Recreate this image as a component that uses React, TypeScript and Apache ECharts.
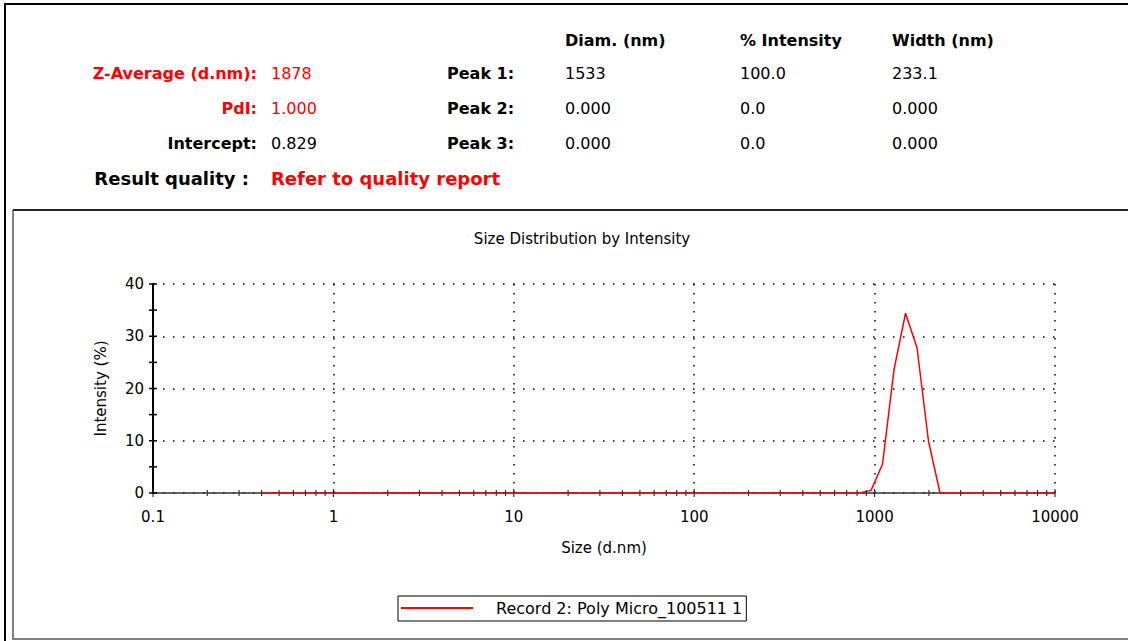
import React, { useEffect, useRef } from "react";
import * as echarts from "echarts";

// Zetasizer size classes (d.nm)
const sizes = [
  0.4, 0.4632, 0.5365, 0.6213, 0.7195, 0.8332, 0.9649, 1.117, 1.294, 1.499,
  1.736, 2.01, 2.328, 2.696, 3.122, 3.615, 4.187, 4.849, 5.615, 6.503,
  7.531, 8.721, 10.1, 11.7, 13.54, 15.69, 18.17, 21.04, 24.36, 28.21,
  32.67, 37.84, 43.82, 50.75, 58.77, 68.06, 78.82, 91.28, 105.7, 122.4,
  141.8, 164.2, 190.1, 220.2, 255.0, 295.3, 342.0, 396.1, 458.7, 531.2,
  615.1, 712.4, 825.0, 955.4, 1106, 1281, 1484, 1718, 1990, 2305,
  2669, 3091, 3580, 4145, 4801, 5560, 6439, 7456, 8635, 10000,
];
// Intensity (%)
const intensity = [
  0, 0, 0, 0, 0, 0, 0, 0, 0, 0,
  0, 0, 0, 0, 0, 0, 0, 0, 0, 0,
  0, 0, 0, 0, 0, 0, 0, 0, 0, 0,
  0, 0, 0, 0, 0, 0, 0, 0, 0, 0,
  0, 0, 0, 0, 0, 0, 0, 0, 0, 0,
  0, 0, 0, 0.5, 5.5, 23.6, 34.4, 27.8, 9.9, 0,
  0, 0, 0, 0, 0, 0, 0, 0, 0, 0,
];

const seriesName = "Record 2: Poly Micro_100511 1";
const xDecades = [0.1, 1, 10, 100, 1000, 10000];
const xMinorMultipliers = [2, 3, 4, 5, 6, 7, 8, 9];
const yTicks = [0, 5, 10, 15, 20, 25, 30, 35, 40];

const summaryLabels = ["Z-Average (d.nm):", "PdI:", "Intercept:"];
const summaryValues = ["1878", "1.000", "0.829"];
const summaryRed = [true, true, false];
const peakLabels = ["Peak 1:", "Peak 2:", "Peak 3:"];
const peakHeaders = ["Diam. (nm)", "% Intensity", "Width (nm)"];
const peakDiam = ["1533", "0.000", "0.000"];
const peakIntensity = ["100.0", "0.0", "0.0"];
const peakWidth = ["233.1", "0.000", "0.000"];
const qualityLabel = "Result quality :";
const qualityValue = "Refer to quality report";

const FONT = '"DejaVu Sans"';

export default function App() {
  const ref = useRef<HTMLDivElement>(null);

  useEffect(() => {
    document.body.style.margin = "0";
    const chart = echarts.init(ref.current!, null, { renderer: "svg" });

    const rowY = [73, 108, 143];
    const colX = [565, 740, 892];
    const txt = (
      text: string,
      x: number,
      y: number,
      opts: { bold?: boolean; size?: number; color?: string; align?: string } = {}
    ) => ({
      type: "text",
      x,
      y,
      silent: true,
      style: {
        text,
        fill: opts.color || "#000",
        font: `${opts.bold ? "bold " : ""}${opts.size || 16}px ${FONT}`,
        textAlign: opts.align || "left",
        align: opts.align || "left",
        textVerticalAlign: "middle",
        verticalAlign: "middle",
      },
    });

    const graphics: any[] = [
      { type: "polyline", silent: true, shape: { points: [[5, 641], [5, 4], [1128, 4]] }, style: { stroke: "#000", lineWidth: 2, fill: null } },
      { type: "polyline", silent: true, shape: { points: [[13, 210], [13, 639], [1128, 639]] }, style: { stroke: "#808080", lineWidth: 2, fill: null } },
      { type: "line", silent: true, shape: { x1: 13, y1: 210, x2: 1128, y2: 210 }, style: { stroke: "#222", lineWidth: 2 } },
    ];
    peakHeaders.forEach((h, i) => graphics.push(txt(h, colX[i], 40, { bold: true })));
    summaryLabels.forEach((l, i) => {
      const c = summaryRed[i] ? "#ff0000" : "#000";
      graphics.push(txt(l, 257, rowY[i], { bold: true, color: c, align: "right" }));
      graphics.push(txt(summaryValues[i], 271, rowY[i], { color: c }));
      graphics.push(txt(peakLabels[i], 447, rowY[i], { bold: true }));
      graphics.push(txt(peakDiam[i], colX[0], rowY[i]));
      graphics.push(txt(peakIntensity[i], colX[1], rowY[i]));
      graphics.push(txt(peakWidth[i], colX[2], rowY[i]));
    });
    graphics.push(txt(qualityLabel, 249, 178, { bold: true, size: 18, align: "right" }));
    graphics.push(txt(qualityValue, 271, 178, { bold: true, size: 18, color: "#ff0000" }));

    const xTickData: number[][] = [];
    xDecades.forEach((d) => {
      xTickData.push([d, 1]);
      if (d < 10000) xMinorMultipliers.forEach((m) => xTickData.push([d * m, 0]));
    });

    chart.setOption({
      animation: false,
      title: {
        text: "Size Distribution by Intensity",
        left: 577,
        top: 226,
        textAlign: "center",
        textStyle: { fontFamily: FONT, fontSize: 15, fontWeight: "normal", color: "#000" },
      },
      grid: { left: 153, top: 284, width: 902, height: 209, containLabel: false },
      legend: {
        data: [seriesName],
        left: 398,
        top: 596,
        padding: [4, 4, 5, 3],
        icon: "rect",
        itemWidth: 72,
        itemHeight: 2,
        borderColor: "#000",
        borderWidth: 1,
        borderRadius: 0,
        selectedMode: false,
        textStyle: { fontFamily: FONT, fontSize: 16, color: "#000", padding: [0, 0, 0, 18] },
      },
      xAxis: {
        type: "log",
        logBase: 10,
        min: 0.1,
        max: 10000,
        splitNumber: 5,
        name: "Size (d.nm)",
        nameLocation: "middle",
        nameGap: 47,
        nameTextStyle: { fontFamily: FONT, fontSize: 15, color: "#000" },
        axisLine: { show: true, lineStyle: { color: "#333", width: 1.5 } },
        axisTick: { show: false },
        axisLabel: {
          fontFamily: FONT,
          fontSize: 15,
          color: "#000",
          margin: 16,
          formatter: (v: number) => String(Number(v.toPrecision(6))),
        },
        splitLine: { show: true, lineStyle: { color: "#000", width: 1.5, type: [1.5, 7.5] } },
      },
      yAxis: {
        type: "value",
        min: 0,
        max: 40,
        interval: 10,
        name: "Intensity (%)",
        nameLocation: "middle",
        nameGap: 45,
        nameTextStyle: { fontFamily: FONT, fontSize: 15, color: "#000" },
        axisLine: { show: true, lineStyle: { color: "#000", width: 2 } },
        axisTick: { show: false },
        axisLabel: { fontFamily: FONT, fontSize: 15, color: "#000", margin: 9 },
        splitLine: { show: true, lineStyle: { color: "#000", width: 1.5, type: [1.5, 8.5] } },
      },
      series: [
        {
          name: seriesName,
          type: "line",
          data: sizes.map((s, i) => [s, intensity[i]]),
          symbol: "none",
          showSymbol: false,
          lineStyle: { color: "#ff0000", width: 1.5 },
          itemStyle: { color: "#ff0000" },
          z: 3,
        },
        {
          type: "custom",
          name: "xticks",
          silent: true,
          clip: false,
          z: 4,
          data: xTickData,
          renderItem: (params: any, api: any) => {
            const p = api.coord([api.value(0), 0]);
            const h = api.value(1) ? 4 : 3;
            return {
              type: "line",
              shape: { x1: p[0], y1: p[1] - h, x2: p[0], y2: p[1] + h },
              style: { stroke: "#333", lineWidth: 1.2 },
            };
          },
        },
        {
          type: "custom",
          name: "yticks",
          silent: true,
          clip: false,
          z: 4,
          data: yTicks.map((v) => [0.1, v]),
          renderItem: (params: any, api: any) => {
            const p = api.coord([0.1, api.value(1)]);
            return {
              type: "line",
              shape: { x1: p[0] - 4, y1: p[1], x2: p[0] + 4, y2: p[1] },
              style: { stroke: "#000", lineWidth: 1.5 },
            };
          },
        },
      ],
      graphic: { elements: graphics },
    } as any);

    return () => chart.dispose();
  }, []);

  return <div ref={ref} style={{ width: 1128, height: 641 }} />;
}
